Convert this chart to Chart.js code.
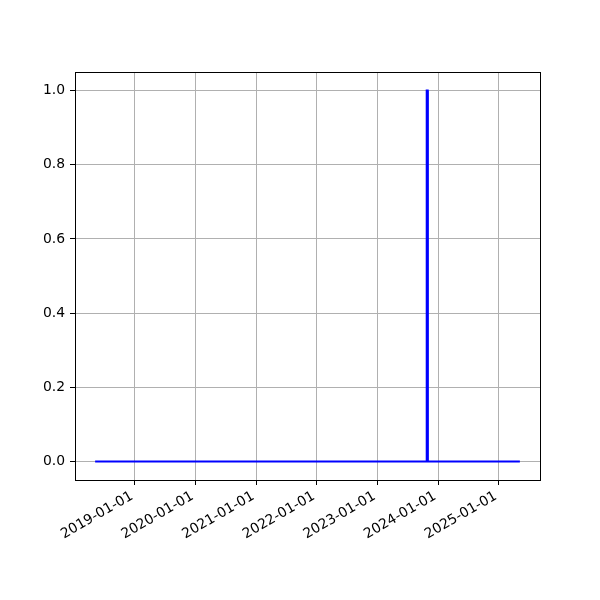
<!DOCTYPE html>
<html>
<head>
<meta charset="utf-8">
<script src="https://cdn.jsdelivr.net/npm/chart.js@4/dist/chart.umd.min.js"></script>
<style>
  html, body { margin: 0; padding: 0; background: #fff; }
  #wrap { width: 600px; height: 600px; }
</style>
</head>
<body>
<div id="wrap"><canvas id="c" width="600" height="600"></canvas></div>
<script>
// Series (dates and values)
const dates  = ['2018-05-12', '2023-10-23', '2023-10-24', '2023-10-30', '2023-10-31', '2025-05-01'];
const values = [0, 0, 1, 1, 0, 0];
// Tick labels
const xTickLabels = ['2019-01-01', '2020-01-01', '2021-01-01', '2022-01-01', '2023-01-01', '2024-01-01', '2025-01-01'];
const yTickValues = [0.0, 0.2, 0.4, 0.6, 0.8, 1.0];

const xs = dates.map(d => Date.parse(d));
const pts = xs.map((x, i) => ({ x: x, y: values[i] }));
const xMinData = Math.min(...xs), xMaxData = Math.max(...xs);
const xPad = (xMaxData - xMinData) * 0.05;
const yMinData = Math.min(...values), yMaxData = Math.max(...values);
const yPad = (yMaxData - yMinData) * 0.05;

const FONT = { family: 'DejaVu Sans', size: 13.9 };

const frame = {
  id: 'frame',
  afterDraw(chart) {
    const a = chart.chartArea, ctx = chart.ctx;
    ctx.save();
    ctx.strokeStyle = '#000';
    ctx.lineWidth = 1;
    ctx.strokeRect(Math.round(a.left) + 0.5, Math.round(a.top) + 0.5, Math.round(a.right - a.left), Math.round(a.bottom - a.top));
    ctx.restore();
  }
};

new Chart(document.getElementById('c'), {
  type: 'scatter',
  data: {
    datasets: [{
      data: pts,
      showLine: true,
      borderColor: '#0000ff',
      backgroundColor: '#0000ff',
      borderWidth: 2,
      borderCapStyle: 'square',
      pointRadius: 0,
      tension: 0
    }]
  },
  options: {
    responsive: false,
    animation: false,
    layout: { padding: { left: 0, right: 60, top: 72, bottom: 0 } },
    plugins: { legend: { display: false }, tooltip: { enabled: false } },
    scales: {
      x: {
        type: 'linear',
        min: xMinData - xPad,
        max: xMaxData + xPad,
        afterBuildTicks(scale) { scale.ticks = xTickLabels.map(s => ({ value: Date.parse(s) })); },
        afterFit(scale) { scale.height = 120; },
        border: { display: false },
        grid: { color: '#b0b0b0', lineWidth: 1, tickColor: '#000', tickLength: 5 },
        ticks: {
          color: '#000', font: FONT, padding: 3, minRotation: 30, maxRotation: 30,
          autoSkip: false, labelOffset: -3,
          callback: (v) => new Date(v).toISOString().slice(0, 10)
        }
      },
      y: {
        type: 'linear',
        min: yMinData - yPad,
        max: yMaxData + yPad,
        afterBuildTicks(scale) { scale.ticks = yTickValues.map(v => ({ value: v })); },
        afterFit(scale) { scale.width = 75; },
        border: { display: false },
        grid: { color: '#b0b0b0', lineWidth: 1, tickColor: '#000', tickLength: 5 },
        ticks: { color: '#000', font: FONT, padding: 5, callback: (v) => Number(v).toFixed(1) }
      }
    }
  },
  plugins: [frame]
});
</script>
</body>
</html>
